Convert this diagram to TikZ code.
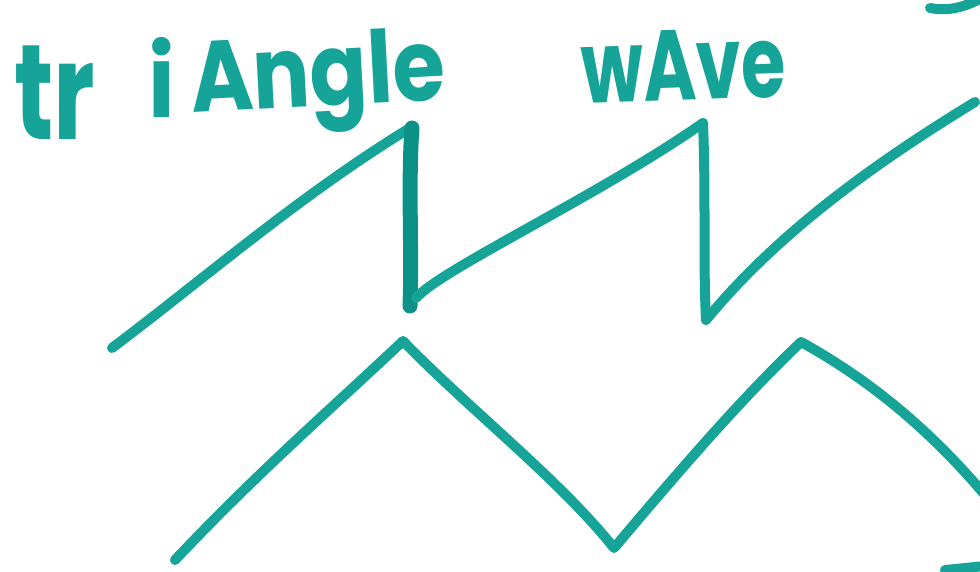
\documentclass[tikz,border=0pt]{standalone}
\usepackage{fontspec}
\setmainfont{Poppins}
\definecolor{ink}{RGB}{22,163,152}
\definecolor{inkdark}{RGB}{12,145,135}
\begin{document}
\begin{tikzpicture}[x=1pt,y=-1pt,
  pen/.style={draw=ink,line width=10pt,line cap=round,line join=round},
  thickpen/.style={draw=inkdark,line width=15pt,line cap=round,line join=round},
  hand/.style={text=ink,font=\bfseries\fontsize{100}{100}\selectfont,inner sep=0pt,anchor=base west}]
\useasboundingbox (0,0) rectangle (980,572);
% handwritten title
\node[hand,font=\bfseries\fontsize{135}{135}\selectfont] (tr) at (14,140) {\scalebox{0.72}[1]{tr}};
\node[hand] (i) at (148,118) {\scalebox{0.9}[1]{i}};
\node[hand,rotate=3] (angle) at (192,113) {\scalebox{0.85}[1]{Angle}};
\node[hand,rotate=2] (wave) at (582,104) {\scalebox{0.72}[1]{wAve}};
% fragments at the edges
\draw[pen] (930,8) .. controls (950,12) and (968,6) .. (985,-4);
\draw[pen] (945,570) -- (985,566);
% sawtooth wave
\draw[pen] (112,348) .. controls (200,282) and (300,195) .. (410,128);
\draw[thickpen] (412,128) .. controls (408,180) and (412,250) .. (410,306);
\draw[pen] (416,298) .. controls (440,270) and (600,195) .. (703,123);
\draw[pen] (703,123) .. controls (706,200) and (703,260) .. (706,320);
\draw[pen] (706,320) .. controls (780,230) and (880,160) .. (975,102);
% triangle wave
\draw[pen] (175,560) .. controls (260,470) and (330,410) .. (403,341)
  .. controls (470,410) and (560,480) .. (614,548)
  .. controls (680,470) and (740,400) .. (801,342)
  .. controls (870,380) and (930,430) .. (985,495);
\end{tikzpicture}
\end{document}
